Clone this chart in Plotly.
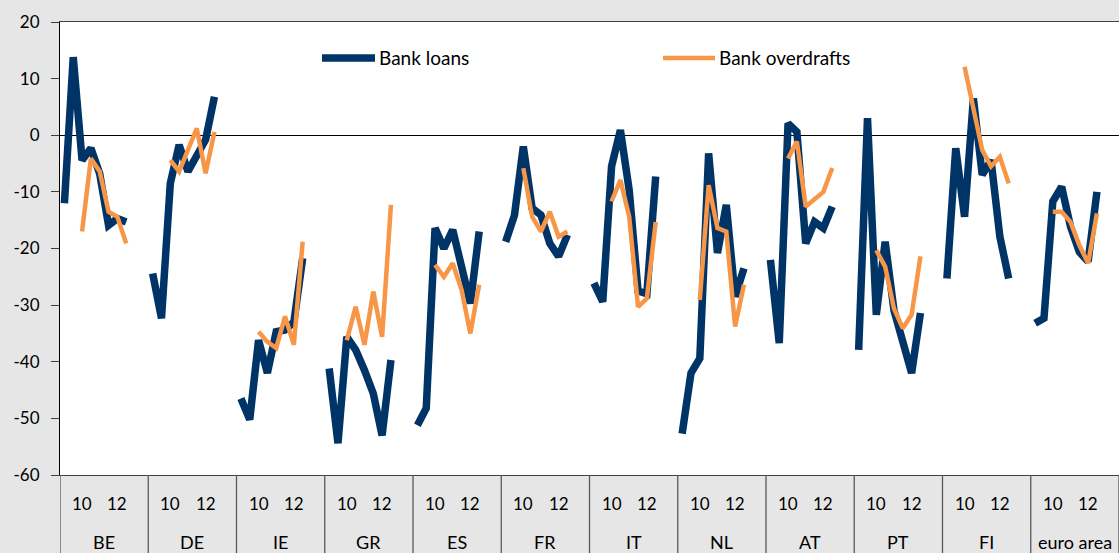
import plotly.graph_objects as go

countries = ["BE", "DE", "IE", "GR", "ES", "FR", "IT", "NL", "AT", "PT", "FI", "euro area"]
slot_labels = {2: "10", 6: "12"}  # semi-annual rounds: 09H1 .. 12H2
slots_per_group = 10

series_names = ["Bank loans", "Bank overdrafts"]

bank_loans = {
    "BE": [-12.0, 13.8, -4.4, -2.3, -6.8, -15.9, -14.7, -15.3],
    "DE": [-24.4, -32.3, -8.5, -1.7, -6.4, -3.7, -0.8, 6.8],
    "IE": [-46.5, -50.2, -36.2, -42.0, -34.7, -34.4, -33.0, -21.7],
    "GR": [-41.2, -54.4, -35.6, -37.9, -41.5, -45.6, -53.0, -39.7],
    "ES": [-51.2, -48.2, -16.4, -20.0, -16.7, -23.0, -29.7, -17.0],
    "FR": [-18.8, -14.1, -2.0, -12.9, -14.1, -19.1, -21.4, -17.6],
    "IT": [-26.1, -29.4, -5.5, 0.9, -9.7, -27.5, -28.0, -7.3],
    "NL": [-52.7, -42.0, -39.4, -3.2, -20.8, -12.3, -28.5, -23.5],
    "AT": [-22.0, -36.7, 2.1, 0.6, -19.1, -15.3, -16.4, -12.6],
    "PT": [-37.9, 3.0, -31.7, -18.8, -30.9, -36.0, -42.0, -31.4],
    "FI": [-25.3, -2.3, -14.4, 6.5, -7.0, -4.4, -17.9, -25.3],
    "euro area": [-33.2, -32.3, -11.7, -9.1, -16.1, -20.6, -22.3, -10.0],
}

bank_overdrafts = {
    "BE": [None, None, -17.0, -4.1, -6.4, -13.5, -14.4, -19.1],
    "DE": [None, None, -4.4, -6.4, -2.6, 1.2, -6.7, 0.6],
    "IE": [None, None, -34.7, -36.5, -37.6, -32.0, -37.0, -18.8],
    "GR": [None, None, -36.2, -30.3, -37.0, -27.6, -35.6, -12.3],
    "ES": [None, None, -22.9, -25.0, -22.6, -27.3, -35.0, -26.4],
    "FR": [None, None, -5.8, -14.4, -17.0, -13.5, -17.9, -17.0],
    "IT": [None, None, -11.7, -7.9, -14.4, -30.3, -28.8, -15.3],
    "NL": [None, None, -29.1, -8.8, -16.4, -17.0, -33.8, -26.4],
    "AT": [None, None, -4.1, -1.1, -12.6, -11.4, -10.0, -5.8],
    "PT": [None, None, -20.3, -23.2, -30.6, -34.1, -31.7, -21.4],
    "FI": [None, None, 12.1, 4.8, -2.6, -5.5, -3.8, -8.5],
    "euro area": [None, None, -13.5, -13.5, -15.3, -19.4, -22.6, -13.8],
}

y_ticks = [20, 10, 0, -10, -20, -30, -40, -50, -60]
y_tick_text = ["20", "10", "0", "-10", "-20", "-30", "-40", "-50", "-60"]

NAVY = "#003466"
ORANGE = "#F79646"
BG = "#E6E6E6"
FONT = "Lato"


def build(series):
    xs, ys = [], []
    for g, c in enumerate(countries):
        vals = series[c]
        for s in range(slots_per_group):
            xs.append(g * slots_per_group + s)
            ys.append(vals[s] if s < len(vals) else None)
    return xs, ys


fig = go.Figure()
for name, data, color, width in [
    (series_names[0], bank_loans, NAVY, 7.5),
    (series_names[1], bank_overdrafts, ORANGE, 4.5),
]:
    xs, ys = build(data)
    fig.add_trace(go.Scatter(x=xs, y=ys, mode="lines", name=name,
                             line=dict(color=color, width=width),
                             connectgaps=False, showlegend=False))

n = len(countries) * slots_per_group
W, H = 1119, 553
ml, mr, mt, mb = 60, 0, 22, 78
ph = H - mt - mb

shapes = []
annotations = []
# group separators in the category area
for g in range(len(countries) + 1):
    shapes.append(dict(type="line", xref="x", yref="paper",
                       x0=g * slots_per_group - 0.5, x1=g * slots_per_group - 0.5,
                       y0=0, y1=-mb / ph, line=dict(color="#595959", width=1.3)))
for g, c in enumerate(countries):
    for s, lab in slot_labels.items():
        annotations.append(dict(x=g * slots_per_group + s, y=-(28 / ph), xref="x", yref="paper",
                                text=lab, showarrow=False, xanchor="center", yanchor="middle",
                                font=dict(family=FONT, size=17, color="black")))
    annotations.append(dict(x=g * slots_per_group + (slots_per_group - 1) / 2, y=-(67 / ph),
                            xref="x", yref="paper", text=c, showarrow=False,
                            xanchor="center", yanchor="middle",
                            font=dict(family=FONT, size=18, color="black")))

# legend drawn in the plot area
pw = W - ml - mr
legend_items = [(series_names[0], NAVY, 7.5, 322, 375), (series_names[1], ORANGE, 4.5, 663, 715)]
ly = (H - mb - 58) / ph
for name, color, width, x0, x1 in legend_items:
    shapes.append(dict(type="line", xref="paper", yref="paper",
                       x0=(x0 - ml) / pw, x1=(x1 - ml) / pw, y0=ly, y1=ly,
                       line=dict(color=color, width=width)))
    annotations.append(dict(x=(x1 + 2 - ml) / pw, y=ly, xref="paper", yref="paper",
                            text=name, showarrow=False, xanchor="left", yanchor="middle",
                            font=dict(family=FONT, size=19, color="black")))

fig.update_layout(
    width=W, height=H,
    margin=dict(l=ml, r=mr, t=mt, b=mb, pad=0),
    paper_bgcolor=BG,
    plot_bgcolor="white",
    font=dict(family=FONT, size=17, color="black"),
    shapes=shapes,
    annotations=annotations,
    showlegend=False,
)
fig.update_xaxes(range=[-0.5, n - 0.5], showticklabels=False, ticks="",
                 showgrid=False, zeroline=False, showline=True, mirror=True,
                 linecolor="#404040", linewidth=1.2)
fig.update_yaxes(range=[-60, 20], tickvals=y_ticks, ticktext=y_tick_text,
                 ticks="outside", ticklen=8,
                 tickcolor="#404040", showgrid=False, zeroline=True,
                 zerolinecolor="black", zerolinewidth=1.2, showline=True,
                 linecolor="black", linewidth=1.2, ticklabelstandoff=8,
                 tickfont=dict(family=FONT, size=17, color="black"))

fig.write_html(
    "out.html",
    config={"displayModeBar": False},
    post_script="document.body.style.margin='0';document.body.style.overflow='hidden';"
                "document.body.style.background='" + BG + "';",
)
